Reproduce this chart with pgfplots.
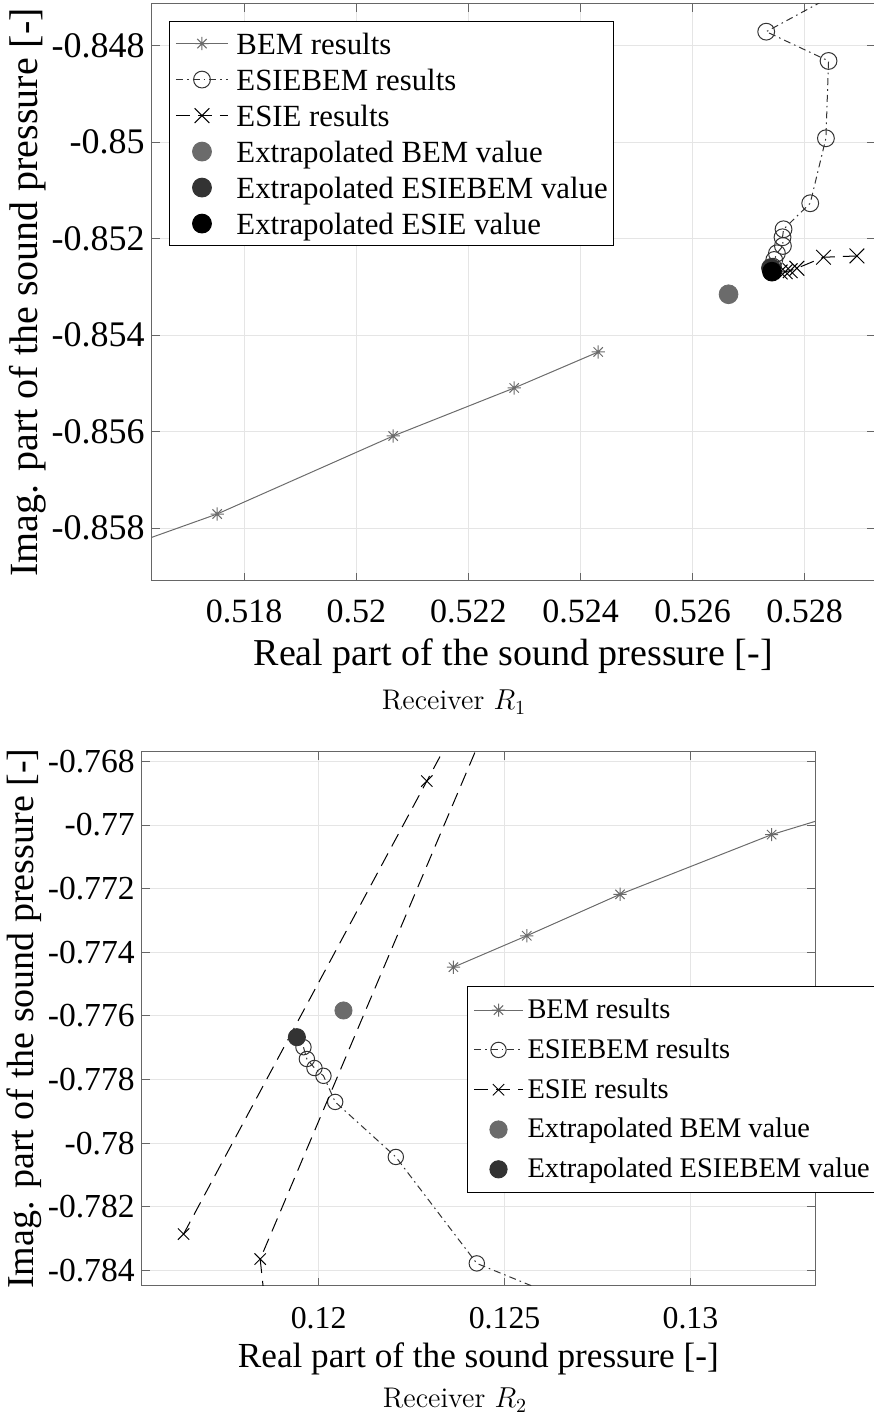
\documentclass[border=0pt]{standalone}
\usepackage{fontspec}
\usepackage{pgfplots}
\pgfplotsset{compat=1.18}
\newfontfamily\tnr{Liberation Serif}
\definecolor{bemgray}{rgb}{0.42,0.42,0.42}
\definecolor{esbgray}{rgb}{0.2,0.2,0.2}
\definecolor{axgray}{rgb}{0.4,0.4,0.4}
\definecolor{gridgray}{rgb}{0.9,0.9,0.9}
\pgfdeclareplotmark{mstar}{%
  \pgfpathmoveto{\pgfqpoint{-\pgfplotmarksize}{0pt}}\pgfpathlineto{\pgfqpoint{\pgfplotmarksize}{0pt}}%
  \pgfpathmoveto{\pgfqpoint{0pt}{-\pgfplotmarksize}}\pgfpathlineto{\pgfqpoint{0pt}{\pgfplotmarksize}}%
  \pgfpathmoveto{\pgfqpoint{-.7071\pgfplotmarksize}{-.7071\pgfplotmarksize}}\pgfpathlineto{\pgfqpoint{.7071\pgfplotmarksize}{.7071\pgfplotmarksize}}%
  \pgfpathmoveto{\pgfqpoint{-.7071\pgfplotmarksize}{.7071\pgfplotmarksize}}\pgfpathlineto{\pgfqpoint{.7071\pgfplotmarksize}{-.7071\pgfplotmarksize}}%
  \pgfusepathqstroke}
\pgfplotsset{
  myax/.style={
    scale only axis, anchor=south west,
    axis line style={draw=axgray, line width=0.5pt},
    tick style={draw=axgray, line width=0.5pt},
    major tick length=4pt, tick align=inside,
    xtick pos=both, ytick pos=both,
    grid=major, major grid style={draw=gridgray, line width=0.5pt},
    clip marker paths=true,
    xlabel={Real part of the sound pressure [-]},
    ylabel={Imag. part of the sound pressure [-]},
    legend cell align=left,
    legend style={draw=black, line width=0.5pt, fill=white},
  },
  bem/.style={draw=bemgray, line width=0.5pt, mark=mstar, mark options={solid, draw=bemgray}},
  esb/.style={draw=esbgray, line width=0.5pt, dash pattern=on 3.5pt off 2pt on 0.8pt off 2pt, mark=o, mark options={solid, draw=esbgray}},
  esie/.style={draw=black, line width=0.5pt, dash pattern=on 7pt off 4pt, mark=x, mark options={solid, draw=black}},
}
\begin{document}
\begin{tikzpicture}
\useasboundingbox (0,0) rectangle (436.5pt,708pt);
% ---------------- Receiver R1 ----------------
\begin{axis}[myax,
  at={(75.85pt,417.5pt)}, width=361.65pt, height=288.5pt,
  xmin=0.51635, xmax=0.529254, ymin=-0.859094, ymax=-0.847136,
  xtick={0.518,0.52,0.522,0.524,0.526,0.528},
  xticklabels={0.518,0.52,0.522,0.524,0.526,0.528},
  ytick={-0.858,-0.856,-0.854,-0.852,-0.85,-0.848},
  yticklabels={-0.858,-0.856,-0.854,-0.852,-0.85,-0.848},
  xticklabel style={font=\tnr\fontsize{17}{19}\selectfont, text=black, yshift=-6pt},
  yticklabel style={font=\tnr\fontsize{18}{20}\selectfont, text=black},
  xlabel style={font=\tnr\fontsize{19}{22}\selectfont, text=black, at={(axis description cs:0.5,-0.1473)}, anchor=base},
  ylabel style={font=\tnr\fontsize{20}{22}\selectfont, text=black, at={(axis description cs:-0.1717,0.5)}, anchor=center},
  legend image code/.code={\draw[mark repeat=2,mark phase=2,#1] plot coordinates {(0pt,0pt) (13pt,0pt) (26pt,0pt)};},
  legend style={at={(axis description cs:0.0243,0.970)}, anchor=north west,
    font=\tnr\fontsize{15.4}{18}\selectfont,
    inner xsep=2.85pt, inner ysep=3.5pt, row sep=3.2pt, column sep=4pt,
    nodes={inner sep=0pt, text height=12.95pt, text depth=1.85pt}},
]
\addplot[bem, mark size=3.3pt] coordinates {
 (0.512969,-0.859592) (0.517518,-0.857706) (0.520658,-0.856089) (0.522817,-0.855094) (0.524316,-0.854348)};
\addlegendentry{BEM results}
\addplot[esb, mark size=4.2pt] coordinates {
 (0.529347,-0.846431) (0.527313,-0.84771) (0.528425,-0.848317) (0.528378,-0.849919) (0.528098,-0.851266)
 (0.527622,-0.851805) (0.527604,-0.851971) (0.527611,-0.852151) (0.527504,-0.852303) (0.527456,-0.852441) (0.527432,-0.85258)};
\addlegendentry{ESIEBEM results}
\addplot[esie, mark size=5.2pt] coordinates {
 (0.528931,-0.852358) (0.528335,-0.852385) (0.527861,-0.852613) (0.527741,-0.852663) (0.527652,-0.852684) (0.527563,-0.85269)};
\addlegendentry{ESIE results}
\addplot[only marks, mark=*, mark size=4.7pt, mark options={draw=bemgray, fill=bemgray}] coordinates {(0.526641,-0.853152)};
\addlegendentry{Extrapolated BEM value}
\addplot[only marks, mark=*, mark size=4.7pt, mark options={draw=esbgray, fill=esbgray}] coordinates {(0.527397,-0.852608)};
\addlegendentry{Extrapolated ESIEBEM value}
\addplot[only marks, mark=*, mark size=4.7pt, mark options={draw=black, fill=black}] coordinates {(0.527415,-0.852684)};
\addlegendentry{Extrapolated ESIE value}
\end{axis}
\node[anchor=base, font=\fontsize{14.2}{16}\selectfont] at (227pt,353pt) {Receiver $R_1$};
% ---------------- Receiver R2 ----------------
\begin{axis}[myax,
  at={(70.85pt,65.15pt)}, width=336.65pt, height=266.95pt,
  xmin=0.11524, xmax=0.13335, ymin=-0.784481, ymax=-0.767698,
  xtick={0.12,0.125,0.13},
  xticklabels={0.12,0.125,0.13},
  ytick={-0.784,-0.782,-0.78,-0.778,-0.776,-0.774,-0.772,-0.77,-0.768},
  yticklabels={-0.784,-0.782,-0.78,-0.778,-0.776,-0.774,-0.772,-0.77,-0.768},
  xticklabel style={font=\tnr\fontsize{15.9}{18}\selectfont, text=black, yshift=-7.5pt},
  yticklabel style={font=\tnr\fontsize{16.8}{18}\selectfont, text=black},
  xlabel style={font=\tnr\fontsize{17.6}{20}\selectfont, text=black, at={(axis description cs:0.5,-0.1541)}, anchor=base},
  ylabel style={font=\tnr\fontsize{19}{21}\selectfont, text=black, at={(axis description cs:-0.1748,0.5)}, anchor=center},
  legend image code/.code={\draw[mark repeat=2,mark phase=2,#1] plot coordinates {(0pt,0pt) (12.25pt,0pt) (24.5pt,0pt)};},
  legend style={at={(axis description cs:0.4836,0.5613)}, anchor=north west,
    font=\tnr\fontsize{14.2}{17}\selectfont,
    inner xsep=2.85pt, inner ysep=3.6pt, row sep=3.5pt, column sep=2pt,
    nodes={inner sep=0pt, text height=12.35pt, text depth=4.05pt}},
]
\addplot[bem, mark size=3.3pt] coordinates {
 (0.123624,-0.774469) (0.125597,-0.773481) (0.128105,-0.772179) (0.132183,-0.770302) (0.138374,-0.768097)};
\addlegendentry{BEM results}
\addplot[esb, mark size=3.85pt] coordinates {
 (0.119591,-0.776984) (0.119683,-0.777355) (0.119887,-0.777638) (0.120129,-0.777884) (0.120444,-0.778704)
 (0.122075,-0.780434) (0.124253,-0.78378) (0.128642,-0.78588)};
\addlegendentry{ESIEBEM results}
\addplot[esie, mark size=4pt] coordinates {
 (0.116366,-0.782858) (0.122909,-0.768619) (0.127492,-0.758645) (0.118427,-0.783645) (0.118831,-0.788082)};
\addlegendentry{ESIE results}
\addplot[only marks, mark=*, mark size=4.3pt, mark options={draw=bemgray, fill=bemgray}] coordinates {(0.120667,-0.77583)};
\addlegendentry{Extrapolated BEM value}
\addplot[only marks, mark=*, mark size=4.3pt, mark options={draw=esbgray, fill=esbgray}] coordinates {(0.119414,-0.77667)};
\addlegendentry{Extrapolated ESIEBEM value}
\end{axis}
\node[anchor=base, font=\fontsize{14.2}{16}\selectfont] at (227.5pt,4.15pt) {Receiver $R_2$};
\end{tikzpicture}
\end{document}
